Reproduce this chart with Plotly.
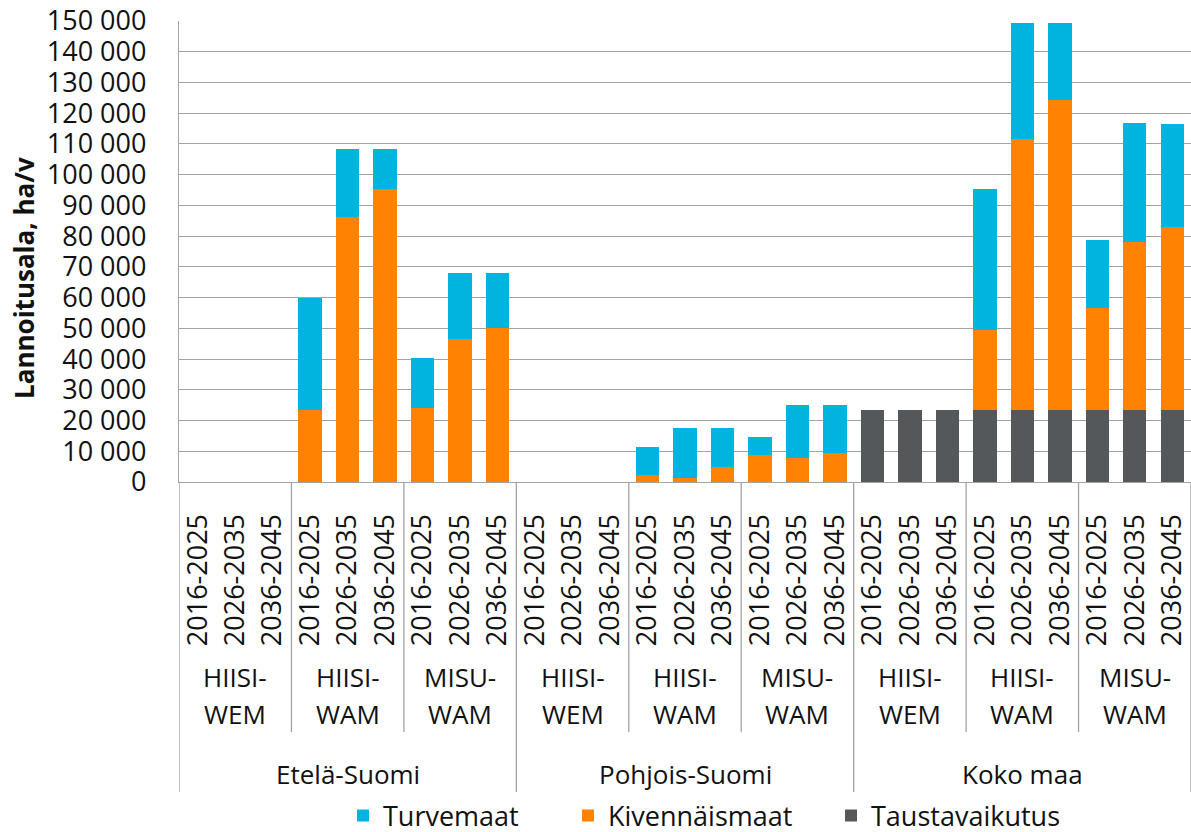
import plotly.graph_objects as go

# ---------------- data ----------------
regions = ["Etelä-Suomi", "Pohjois-Suomi", "Koko maa"]
scenarios = ["HIISI-WEM", "HIISI-WAM", "MISU-WAM"]
periods = ["2016-2025", "2026-2035", "2036-2045"]

taustavaikutus = [0, 0, 0, 0, 0, 0, 0, 0, 0,
                  0, 0, 0, 0, 0, 0, 0, 0, 0,
                  23300, 23300, 23300, 23300, 23300, 23300, 23300, 23300, 23300]
kivennaismaat = [0, 0, 0, 23300, 86300, 95500, 24100, 46500, 50000,
                 0, 0, 0, 2200, 1400, 4900, 8800, 7900, 9300,
                 0, 0, 0, 26100, 88300, 101000, 33200, 54700, 59700]
turvemaat = [0, 0, 0, 36600, 22000, 12800, 16200, 21600, 18100,
             0, 0, 0, 9300, 16100, 12600, 6000, 17300, 15900,
             0, 0, 0, 45800, 37800, 25100, 22200, 38700, 33500]

series_names = ["Taustavaikutus", "Kivennäismaat", "Turvemaat"]
series_colors = ["#54585B", "#FF8300", "#00B4E0"]

# ---------------- build categories ----------------
keys, tick_text = [], []
for r in regions:
    for s in scenarios:
        for p in periods:
            keys.append(f"{r}|{s}|{p}")
            tick_text.append(p)

W, H = 1191, 832
ML, MR, MT, MB = 179, 0, 21, 350
PH = H - MT - MB


def py(px):  # pixel y -> paper y
    return (H - MB - px) / PH


def pxx(px):  # pixel x -> paper x
    return (px - ML) / (W - ML - MR)


FONT = "Open Sans"
TXT = "#111111"
GRID = "#A3A3A3"

fig = go.Figure()
legend_widths = {"Turvemaat": 180, "Kivennäismaat": 218, "Taustavaikutus": 200}
for name, vals, col in zip(series_names, [taustavaikutus, kivennaismaat, turvemaat], series_colors):
    fig.add_trace(go.Bar(
        x=keys, y=vals, name=name,
        marker=dict(color=col, line=dict(width=0)),
        legendwidth=legend_widths[name],
    ))

n_per_s = len(periods)
n_per_r = len(scenarios) * len(periods)

annotations = []
shapes = []
# scenario labels (two lines each)
for ri, r in enumerate(regions):
    for si, s in enumerate(scenarios):
        mid = keys[ri * n_per_r + si * n_per_s + 1]
        a, b = s.split("-")
        for txt, ypx in ((a + "-", 677), (b, 714)):
            annotations.append(dict(
                x=mid, xref="x", y=py(ypx), yref="paper",
                text=txt, showarrow=False,
                font=dict(family=FONT, size=26, color=TXT),
                xanchor="center", yanchor="middle",
            ))
    mid_r = keys[ri * n_per_r + 4]
    annotations.append(dict(
        x=mid_r, xref="x", y=py(774), yref="paper",
        text=r, showarrow=False,
        font=dict(family=FONT, size=26, color=TXT),
        xanchor="center", yanchor="middle",
    ))

# separator lines below axis
n = len(keys)
for i in range(0, n + 1, n_per_s):
    long = (i % n_per_r == 0)
    shapes.append(dict(
        type="line", xref="x", yref="paper",
        x0=i - 0.5, x1=i - 0.5, y0=0, y1=py(792 if long else 732),
        line=dict(color=GRID, width=1.3),
    ))

# y axis title
annotations.append(dict(
    x=pxx(24), xref="paper", y=py(278), yref="paper",
    text="<b>Lannoitusala, ha/v</b>", textangle=-90, showarrow=False,
    font=dict(family=FONT, size=26, color=TXT),
    xanchor="center", yanchor="middle",
))

fig.update_layout(
    width=W, height=H,
    margin=dict(l=ML, r=MR, t=MT, b=MB, pad=0, autoexpand=False),
    barmode="stack", bargap=0.375,
    plot_bgcolor="white", paper_bgcolor="white",
    font=dict(family=FONT, size=26, color=TXT),
    separators=", ",
    showlegend=True,
    legend=dict(
        orientation="h", x=pxx(343), xanchor="left",
        y=py(816), yanchor="middle",
        traceorder="reversed",
        font=dict(family=FONT, size=27, color=TXT),
        bgcolor="rgba(0,0,0,0)", borderwidth=0,
    ),
    xaxis=dict(
        type="category", tickmode="array", tickvals=keys, ticktext=tick_text,
        tickangle=-90, tickfont=dict(family=FONT, size=27, color=TXT),
        showgrid=False, showline=True, linecolor=GRID, linewidth=1.3,
        ticks="", ticklabelstandoff=20, range=[-0.5, n - 0.5],
        fixedrange=True, automargin=False,
    ),
    yaxis=dict(
        range=[0, 150000], dtick=10000, tick0=0, tickformat=",d",
        showgrid=True, gridcolor=GRID, gridwidth=1.3,
        showline=True, linecolor=GRID, linewidth=1.3,
        zeroline=False, ticks="", ticklabelstandoff=26,
        tickfont=dict(family=FONT, size=27, color=TXT),
        fixedrange=True, automargin=False,
    ),
    annotations=annotations,
    shapes=shapes,
)

fig.write_html("out.html")
